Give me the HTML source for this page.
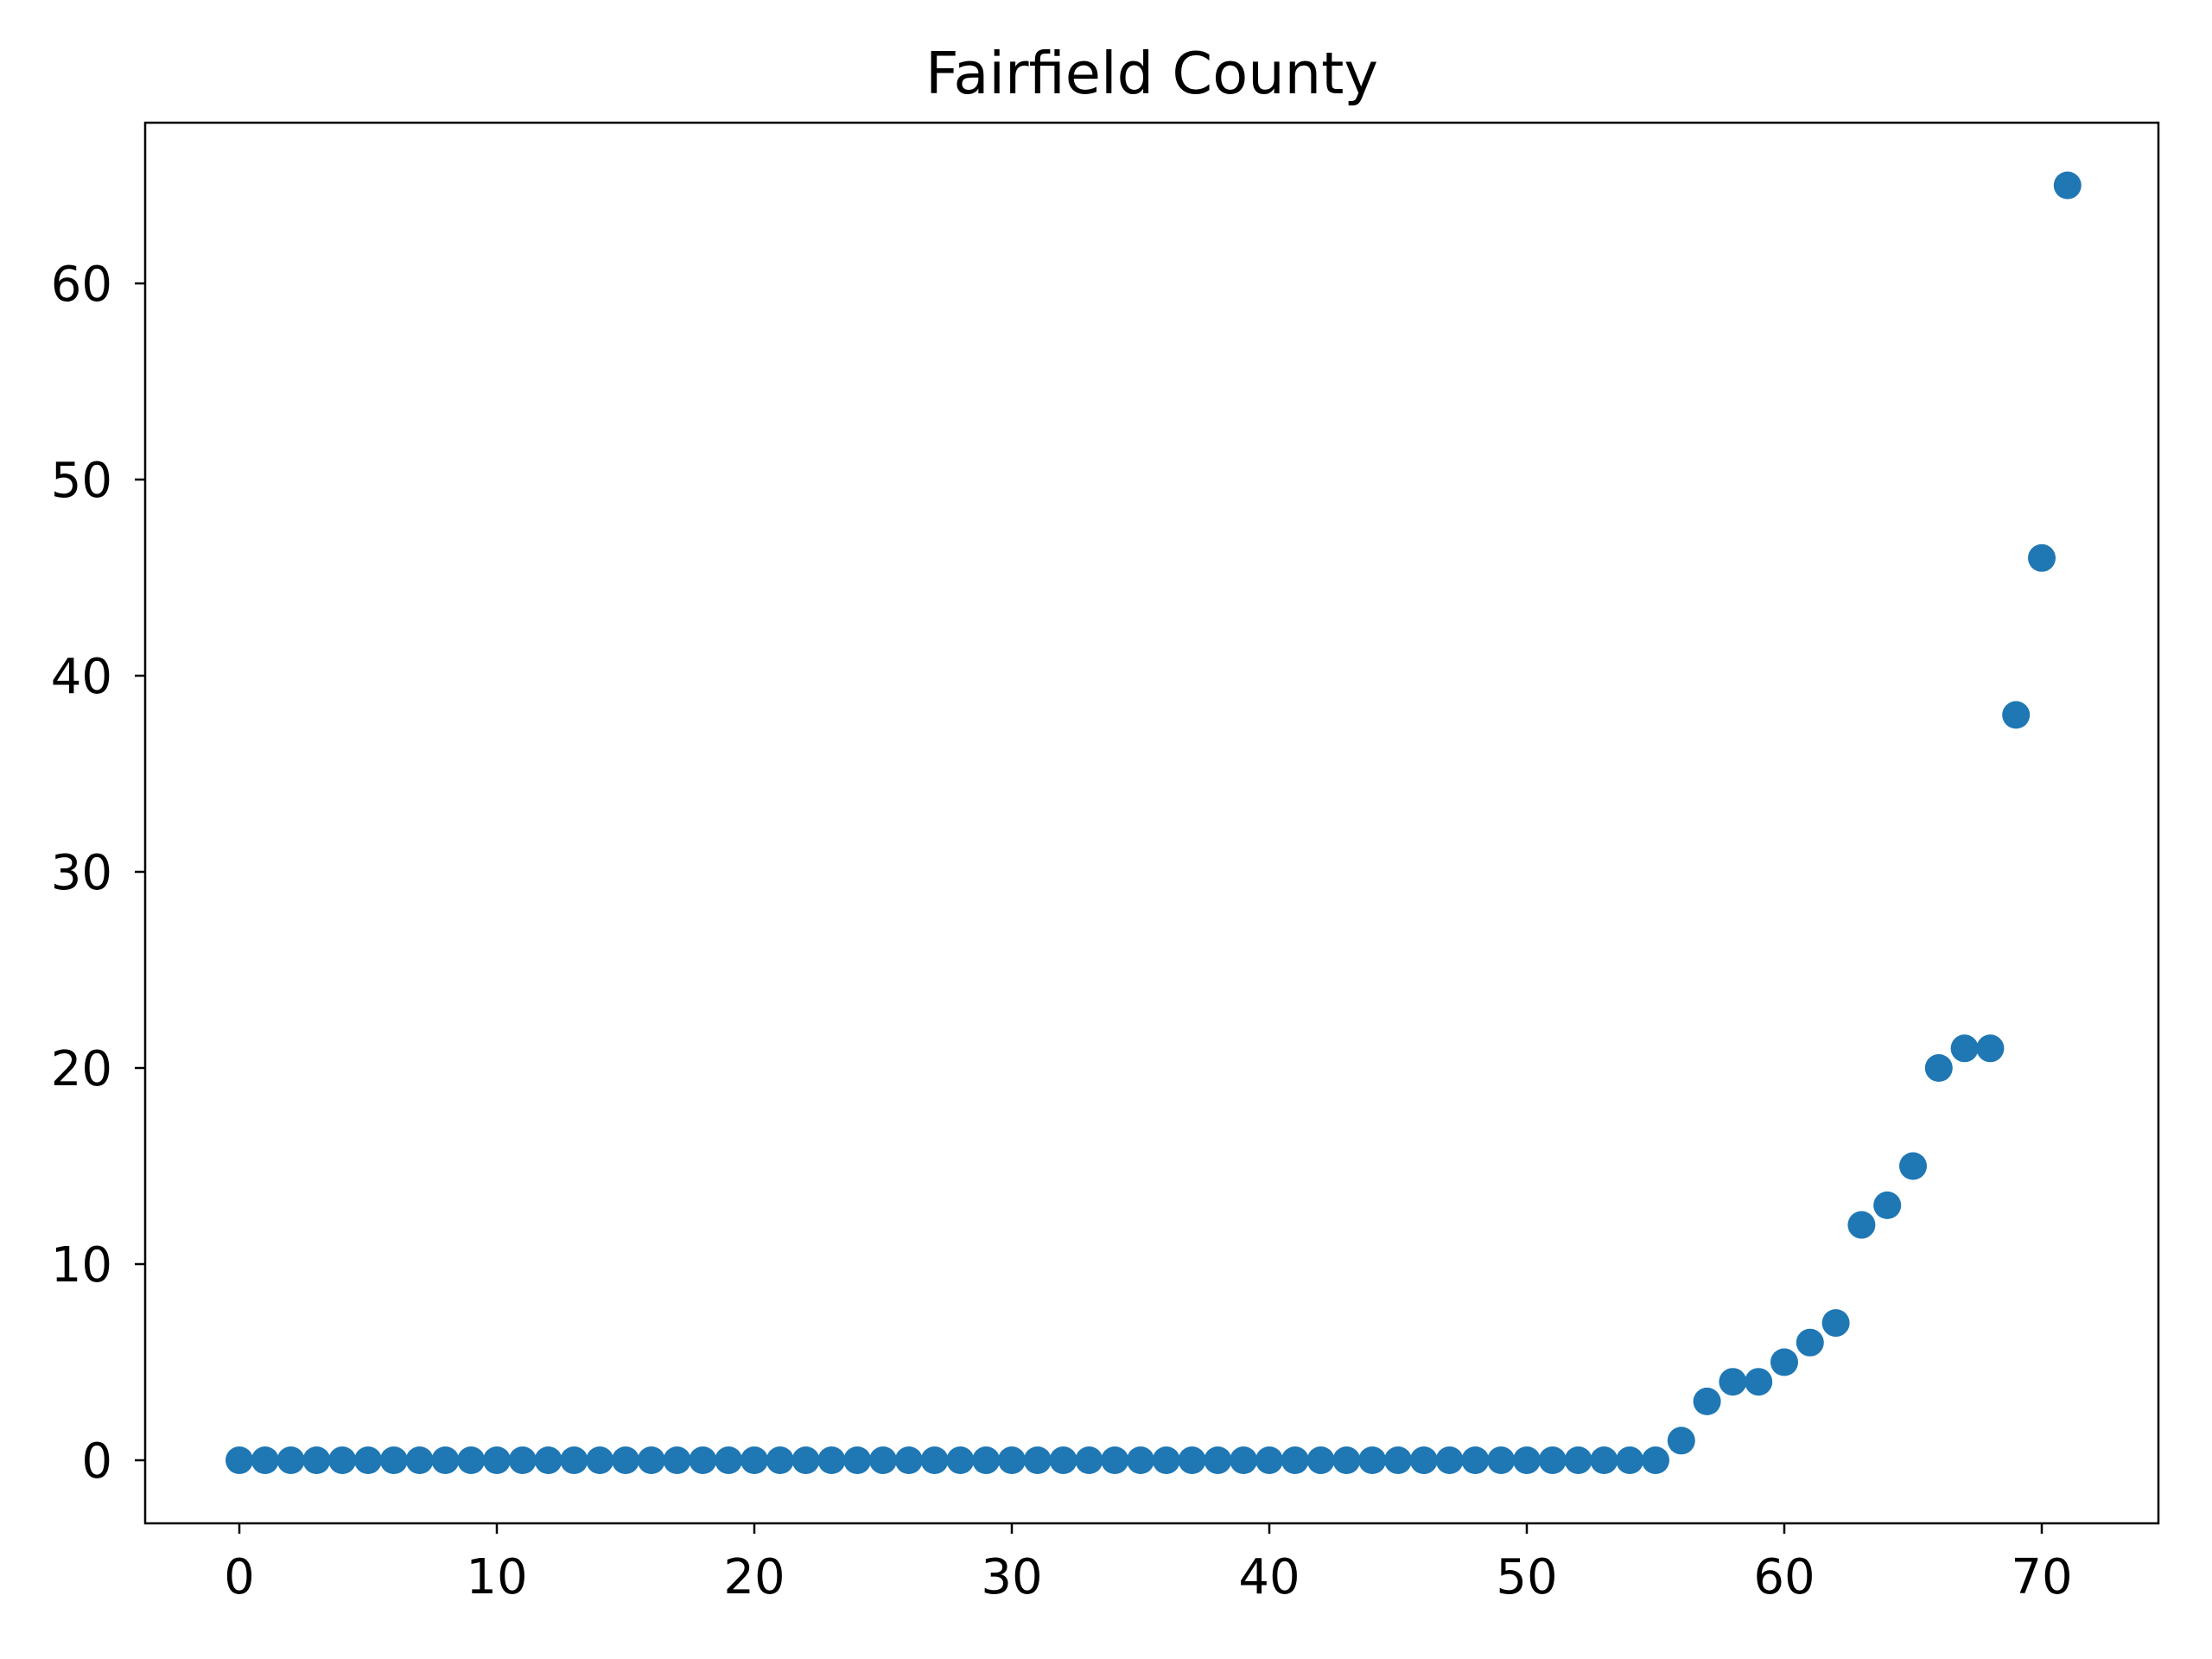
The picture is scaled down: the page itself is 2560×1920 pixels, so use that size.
<!DOCTYPE html>
<html><head><meta charset="utf-8"><style>
html,body{margin:0;padding:0;background:#fff;}
svg{display:block;font-family:"DejaVu Sans","Liberation Sans",sans-serif;}
</style></head><body>
<svg id="chart" width="2560" height="1920" viewBox="0 0 2560 1920">
<rect x="0" y="0" width="2560" height="1920" fill="#fff"/>
<text x="1333" y="108" font-size="67" text-anchor="middle">Fairfield County</text>
<g id="marks"></g>
<g id="axes"></g>
<rect x="168" y="142" width="2330" height="1621" fill="none" stroke="#000" stroke-width="2.5"/>
</svg>
<script>
const xValues = [];
for (let i = 0; i < 72; i++) xValues.push(i);
const yValues = [0,0,0,0,0,0,0,0,0,0,0,0,0,0,0,0,0,0,0,0,0,0,0,0,0,0,0,0,0,0,0,0,0,0,0,0,0,0,0,0,0,0,0,0,0,0,0,0,0,0,0,0,0,0,0,0,1,3,4,4,5,6,7,12,13,15,20,21,21,38,46,65];
const xTicks = [0,10,20,30,40,50,60,70];
const yTicks = [0,10,20,30,40,50,60];

const NS = "http://www.w3.org/2000/svg";
function sx(v){ return 277 + v * (2363 - 277) / 70; }
function sy(v){ return 1690 - v * (1690 - 328) / 60; }

const marks = document.getElementById('marks');
xValues.forEach((x, i) => {
  const c = document.createElementNS(NS, 'circle');
  c.setAttribute('cx', sx(x));
  c.setAttribute('cy', sy(yValues[i]));
  c.setAttribute('r', 16);
  c.setAttribute('fill', '#1f77b4');
  
  
  marks.appendChild(c);
});

const axes = document.getElementById('axes');
xTicks.forEach(t => {
  const l = document.createElementNS(NS, 'line');
  l.setAttribute('x1', sx(t)); l.setAttribute('x2', sx(t));
  l.setAttribute('y1', 1763); l.setAttribute('y2', 1775);
  l.setAttribute('stroke', '#000'); l.setAttribute('stroke-width', 2.5);
  
  
  axes.appendChild(l);
  const tx = document.createElementNS(NS, 'text');
  tx.setAttribute('x', sx(t)); tx.setAttribute('y', 1844);
  tx.setAttribute('font-size', 56); tx.setAttribute('text-anchor', 'middle');
  tx.textContent = t;
  
  
  axes.appendChild(tx);
});
yTicks.forEach(t => {
  const l = document.createElementNS(NS, 'line');
  l.setAttribute('x1', 156); l.setAttribute('x2', 168);
  l.setAttribute('y1', sy(t)); l.setAttribute('y2', sy(t));
  l.setAttribute('stroke', '#000'); l.setAttribute('stroke-width', 2.5);
  
  
  axes.appendChild(l);
  const tx = document.createElementNS(NS, 'text');
  tx.setAttribute('x', 130); tx.setAttribute('y', sy(t) + 20);
  tx.setAttribute('font-size', 56); tx.setAttribute('text-anchor', 'end');
  tx.textContent = t;
  
  
  axes.appendChild(tx);
});
</script>
</body></html>
